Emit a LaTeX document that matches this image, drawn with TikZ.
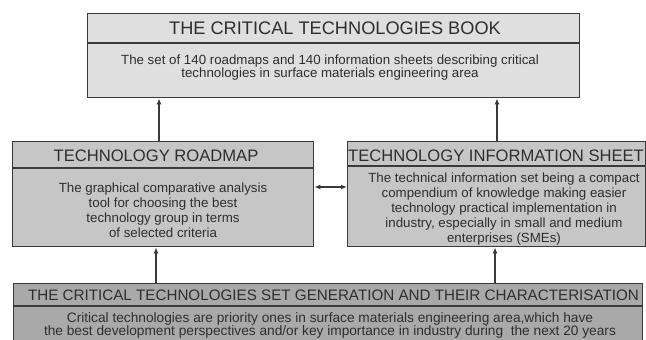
\documentclass[tikz,border=0pt]{standalone}
\usepackage{fontspec}
\setmainfont{Liberation Sans}
\usetikzlibrary{arrows.meta}
\definecolor{edge}{HTML}{3A3A3A}
\definecolor{txt}{HTML}{2E2E2E}
\definecolor{fillA}{HTML}{DFDFDF}
\definecolor{fillB}{HTML}{C6C6C6}
\definecolor{fillC}{HTML}{A9A9A9}
\tikzset{
  boxbase/.style={draw=edge, line width=1.4pt, inner sep=0pt, anchor=north west},
  boxA/.style={boxbase, fill=fillA},
  boxB/.style={boxbase, fill=fillB},
  boxC/.style={boxbase, fill=fillC},
  divider/.style={draw=edge, line width=1.3pt},
  headtxt/.style={inner sep=0pt, text=txt},
  bodytxt/.style={inner sep=0pt, text=txt, align=center},
  arr/.style={draw=edge, line width=1.3pt, -{Latex[length=6pt,width=5pt]}},
  arrtwo/.style={draw=edge, line width=1.3pt, {Latex[length=6pt,width=5pt]}-{Latex[length=6pt,width=5pt]}}
}
\begin{document}
\begin{tikzpicture}[x=1pt,y=-1pt]
\useasboundingbox (0,0) rectangle (646,340);
\clip (0,0) rectangle (646,340);
% boxes
\node[boxA, minimum width=492pt, minimum height=84pt] (book) at (87,13) {};
\node[boxB, minimum width=301pt, minimum height=105pt] (road) at (12,141) {};
\node[boxB, minimum width=298pt, minimum height=105pt] (info) at (347,141) {};
\node[boxC, minimum width=629pt, minimum height=70pt] (gen) at (13,283) {};
% dividers
\draw[divider] ([yshift=-30pt]book.north west) -- ([yshift=-30pt]book.north east);
\draw[divider] ([yshift=-27pt]road.north west) -- ([yshift=-27pt]road.north east);
\draw[divider] ([yshift=-25pt]info.north west) -- ([yshift=-25pt]info.north east);
\draw[divider] ([yshift=-23pt]gen.north west) -- ([yshift=-23pt]gen.north east);
% texts
\node[headtxt, font=\fontsize{18.2}{20}\selectfont] (bookT) at (335,28) {THE CRITICAL TECHNOLOGIES BOOK};
\node[bodytxt, font=\fontsize{13.3}{13.8}\selectfont] (bookB) at (330,67.5) {The set of 140 roadmaps and 140 information sheets describing critical\\technologies in surface materials engineering area};
\node[headtxt, font=\fontsize{16.6}{18}\selectfont] (roadT) at (156,156) {TECHNOLOGY ROADMAP};
\node[bodytxt, font=\fontsize{13.3}{15}\selectfont] (roadB) at (163,210) {The graphical comparative analysis\\tool for choosing the best\\technology group in terms\\of selected criteria};
\node[headtxt, font=\fontsize{16.6}{18}\selectfont] (infoT) at (496,155.5) {TECHNOLOGY INFORMATION SHEET};
\node[bodytxt, font=\fontsize{13.3}{14.8}\selectfont] (infoB) at (504,209) {The technical information set being a compact\\compendium of knowledge making easier\\technology practical implementation in\\industry, especially in small and medium\\enterprises (SMEs)};
\node[headtxt, font=\fontsize{15.2}{17}\selectfont] (genT) at (333.5,295) {THE CRITICAL TECHNOLOGIES SET GENERATION AND THEIR CHARACTERISATION};
\node[bodytxt, font=\fontsize{13.7}{13}\selectfont] (genB) at (330,325) {Critical technologies are priority ones in surface materials engineering area,which have\\the best development perspectives and/or key importance in industry during\ \ the next 20 years};
% connector guides
\coordinate (xa) at (159,0);
\coordinate (xb) at (497,0);
\coordinate (xc) at (156,0);
\coordinate (xd) at (495,0);
\coordinate (ym) at (0,187);
% connectors
\draw[arr] (xa |- road.north) -- (xa |- book.south);
\draw[arr] (xb |- info.north) -- (xb |- book.south);
\draw[arr] (xc |- gen.north) -- (xc |- road.south);
\draw[arr] (xd |- gen.north) -- (xd |- info.south);
\draw[arrtwo] (road.east |- ym) -- (info.west |- ym);
\end{tikzpicture}
\end{document}
